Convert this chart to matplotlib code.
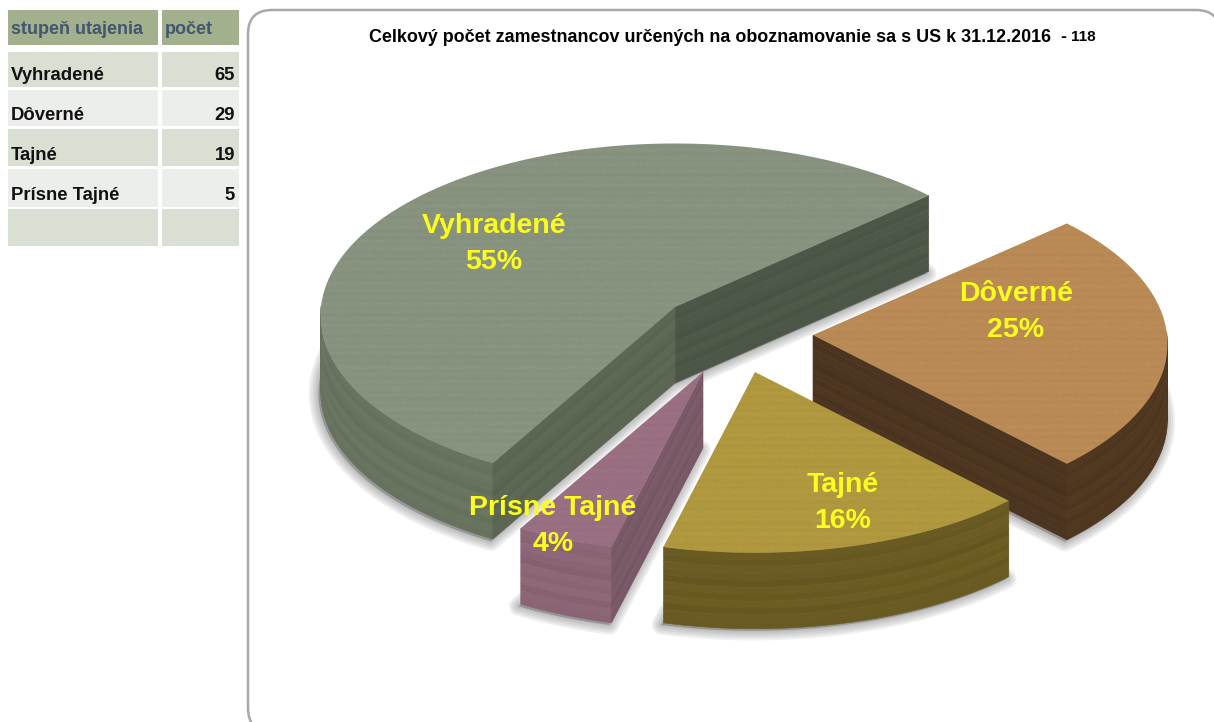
import numpy as np
import matplotlib
matplotlib.use('Agg')
import matplotlib.pyplot as plt
from matplotlib.patches import Polygon, Rectangle, FancyBboxPatch
from matplotlib.colors import to_rgb

categories = ['Vyhradené', 'Dôverné', 'Tajné', 'Prísne Tajné']
values = [65, 29, 19, 5]
title = 'Celkový počet zamestnancov určených na oboznamovanie sa s US k 31.12.2016  -'
headers = ['stupeň utajenia', 'počet']

# layout of the pie, in pixels
start = 240.5
Rx = 354
k = 0.485
persp = 0.05
depth = 76
apex = [(675, 307), (813, 335), (755, 372), (703, 372)]
label_xy = [(494, 244), (1016, 312), (843, 503), (553, 526)]

top_col = ['#87927f', '#b98a55', '#b0983f', '#9a6f82']
outer_col = ['#69745f', '#50371f', '#6a5b22', '#8c6676']
cut_col = ['#5c6753', '#4c3520', '#6a5b22', '#7a5968']
cut2_col = ['#4d5747', '#4c3520', '#6a5b22', '#7a5968']
layers = [1.0, 0.97, 1.015, 0.985, 0.95, 1.01, 0.98, 1.02, 0.96, 1.0, 0.985]

FW, FH = 1214, 722
fig = plt.figure(figsize=(FW / 100, FH / 100), dpi=100)
ax = fig.add_axes([0, 0, 1, 1])
ax.axis('off')

SANS = ['Liberation Sans', 'DejaVu Sans']


def proj(a, c):
    x, y = np.cos(np.radians(a)), np.sin(np.radians(a))
    f = 1 / (1 + persp * y)
    return np.column_stack([c[0] + Rx * x * f, c[1] - Rx * k * y * f])


def grain(h, w, col):
    yy, xx = np.mgrid[0:h, 0:w]
    n = np.sin(xx * 12.9898 + yy * 78.233) * 43758.5453
    n = n - np.floor(n) - 0.5
    streak = np.sin(yy * 0.9) + 0.6 * np.sin(yy * 2.3 + xx * 0.01) + 0.5 * np.sin(yy * 0.31 + 1)
    shade = 1 + 0.035 * n + 0.012 * streak
    return np.clip(shade[..., None] * np.array(to_rgb(col)), 0, 1)


def band(p, d0, d1, col, z):
    # one wood layer of a wall
    a = p + [0, d0]
    b = (p + [0, d1])[::-1]
    ax.add_patch(Polygon(np.vstack([a, b]), closed=True, fc=col, ec=col, lw=0.4, zorder=z))


def wall(p, col, z):
    n = len(layers)
    base = np.array(to_rgb(col))
    for i, s in enumerate(layers):
        band(p, depth * i / n, depth * (i + 1) / n, np.clip(base * s, 0, 1), z)


# panel, its right and bottom sides run off the picture
ax.add_patch(FancyBboxPatch((248, 10), 972, 722, boxstyle='round,pad=0,rounding_size=24',
                            fc='white', ec='#a8a8a8', lw=1.8, zorder=1))

# table
col_x = [(8, 158), (162, 239)]
row_y = [(52, 87), (90, 126), (129, 166), (169, 207), (209, 246)]
for (x0, x1), h in zip(col_x, headers):
    ax.add_patch(Rectangle((x0, 10), x1 - x0, 35, fc='#a3b08d', ec='none'))
    ax.text(x0 + 3, 30, h, fontsize=13, fontweight='bold', color='#41566f', family=SANS,
            ha='left', va='center')
for i, (y0, y1) in enumerate(row_y):
    fc = '#dadfd3' if i % 2 == 0 else '#ebeeea'
    for x0, x1 in col_x:
        ax.add_patch(Rectangle((x0, y0), x1 - x0, y1 - y0, fc=fc, ec='none'))
    if i < len(categories):
        ax.text(11, y1 - 11, categories[i], fontsize=13.3, fontweight='bold', color='#111111',
                family=SANS, ha='left', va='center')
        ax.text(235, y1 - 11, str(values[i]), fontsize=13.3, fontweight='bold', color='#111111',
                family=SANS, ha='right', va='center')

total = sum(values)
ax.text(369, 37, title, fontsize=12.9, fontweight='bold', color='black', family=SANS,
        ha='left', va='center', zorder=5)
ax.text(1071, 37, str(total), fontsize=11, fontweight='bold', color='black', family=SANS,
        ha='left', va='center', zorder=5)

# angles, clockwise from the start
spans = [v / total * 360 for v in values]
ends = start - np.cumsum(spans)
begins = np.r_[start, ends[:-1]]

for w in [0, 1, 3, 2]:
    a_hi, a_lo = begins[w], ends[w]
    c = apex[w]
    arc_a = np.linspace(a_lo, a_hi, 200)
    arc = proj(arc_a, c)
    top = np.vstack([[c], arc])
    z = 10 + [0, 1, 3, 2].index(w) * 10

    # soft shadow under the slice
    bottom = top + [-2, depth + 2]
    for lw in [14, 11, 8, 5, 2]:
        ax.add_patch(Polygon(bottom, closed=True, fc='#555555', ec='#555555', lw=lw, alpha=0.09,
                             joinstyle='round', zorder=z))

    # outer wall, only the part turned to the viewer
    vis = np.sin(np.radians(arc_a)) < 0.02
    if vis.any():
        wall(arc[vis], outer_col[w], z + 1)

    # cut faces
    p_lo = proj(np.array([a_lo]), c)[0]
    p_hi = proj(np.array([a_hi]), c)[0]
    if np.sin(np.radians(a_lo - 90)) < 0:
        wall(np.array([c, p_lo]), cut2_col[w], z + 2)
    if np.sin(np.radians(a_hi + 90)) < 0:
        wall(np.array([c, p_hi]), cut_col[w], z + 2)

    # textured top face
    x0, x1 = top[:, 0].min() - 2, top[:, 0].max() + 2
    y0, y1 = top[:, 1].min() - 2, top[:, 1].max() + 2
    im = ax.imshow(grain(int(y1 - y0), int(x1 - x0), top_col[w]), extent=(x0, x1, y1, y0),
                   aspect='auto', interpolation='bilinear', zorder=z + 3)
    clip = Polygon(top, closed=True, transform=ax.transData)
    im.set_clip_path(clip)

for w, (lx, ly) in enumerate(label_xy):
    pct = round(values[w] / total * 100)
    ax.text(lx, ly, f'{categories[w]}\n{pct}%', fontsize=20.5, fontweight='bold', color='#fcfc1e',
            family=SANS, ha='center', va='center', linespacing=1.5, zorder=60)

ax.set_xlim(0, FW)
ax.set_ylim(FH, 0)
fig.savefig('out.png', dpi=100)
